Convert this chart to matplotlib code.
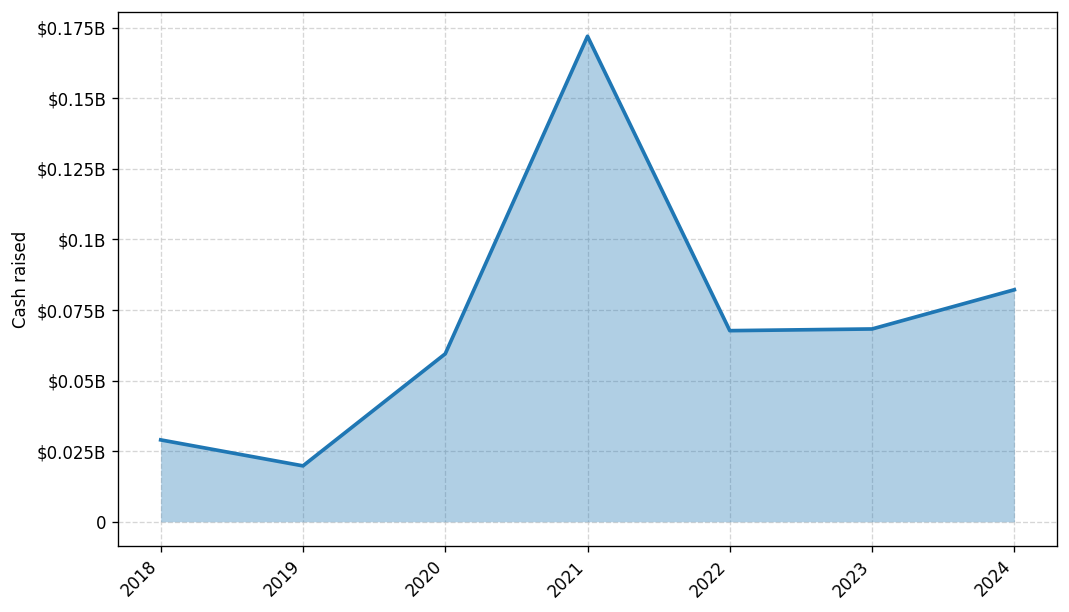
import matplotlib
matplotlib.use("Agg")
import matplotlib.pyplot as plt
from matplotlib.ticker import FuncFormatter, MultipleLocator

years = ["2018", "2019", "2020", "2021", "2022", "2023", "2024"]
cash_raised = [0.0290e9, 0.0198e9, 0.0595e9, 0.1720e9, 0.0677e9, 0.0683e9, 0.0822e9]


def billions(v, pos):
    if abs(v) < 1:
        return "0"
    return "${:g}B".format(round(v / 1e9, 4))


fig, ax = plt.subplots(figsize=(1069 / 120, 612 / 120), dpi=120)
x = list(range(len(years)))
ax.fill_between(x, cash_raised, color="#1f77b4", alpha=0.35, linewidth=0)
ax.plot(x, cash_raised, color="#1f77b4", linewidth=2.2)

ax.set_xticks(x)
ax.set_xticklabels(years, rotation=45, ha="right")
ax.yaxis.set_major_locator(MultipleLocator(0.025e9))
ax.yaxis.set_major_formatter(FuncFormatter(billions))
ax.set_ylabel("Cash raised")
ax.grid(True, linestyle="--", color="#cccccc", alpha=0.8)
ax.set_axisbelow(True)

fig.subplots_adjust(left=0.1104, right=0.9888, top=0.9804, bottom=0.1078)
fig.savefig("out.png")
